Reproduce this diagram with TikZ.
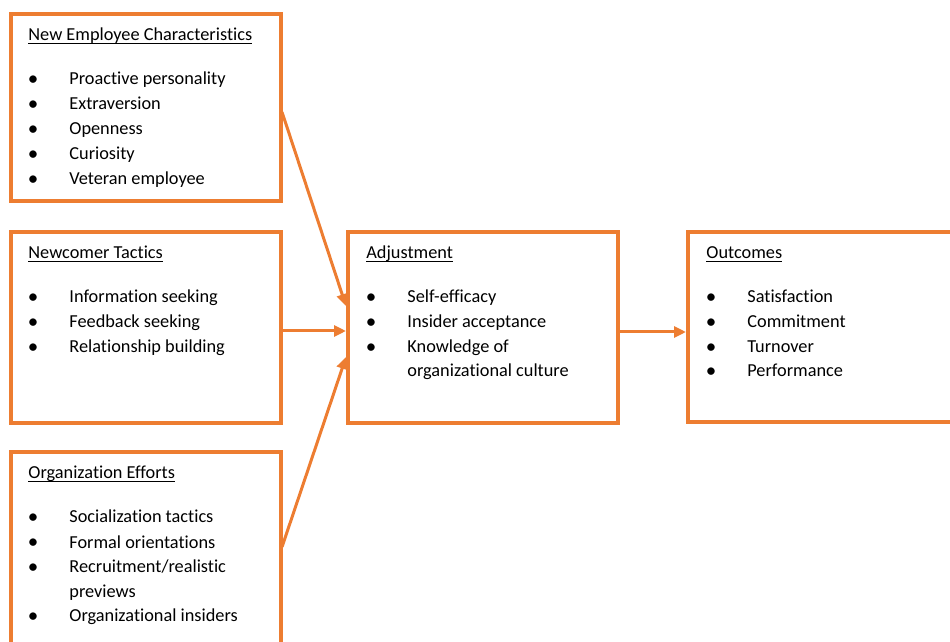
\documentclass[tikz,border=0pt]{standalone}
\usepackage{fontspec}
\setmainfont[Ligatures={NoCommon}]{Carlito}
\usetikzlibrary{arrows.meta}
\definecolor{org}{HTML}{ED7D31}
\newcommand\myul[1]{\setbox0\hbox{#1}\rlap{\rule[-1.3pt]{\wd0}{0.5pt}}#1}
\tikzset{
  box/.style={draw=org, line width=2pt, rectangle, inner sep=0pt, fill=none},
  txt/.style={anchor=base west, inner sep=0pt, yshift=-1pt, font=\fontsize{9.15pt}{12.5pt}\selectfont},
  bul/.style={anchor=base, inner sep=0pt, yshift=-1.2pt, font=\fontsize{10.5pt}{12.5pt}\selectfont},
  arr/.style={draw=org, line width=1.5pt, -{Triangle[length=6pt,width=5.5pt]}}
}
\begin{document}
\begin{tikzpicture}[x=0.5pt,y=-0.5pt]
\useasboundingbox (0,0) rectangle (950,642);
\clip (0,0) rectangle (950,642);
% boxes
\node[box, minimum width=134.75pt, minimum height=93.75pt] (b1) at (145.75,107.75) {};
\node[box, minimum width=134.75pt, minimum height=95.5pt] (b2) at (145.75,327.5) {};
\node[box, minimum width=134.75pt, minimum height=106.5pt] (b3) at (145.75,558.5) {};
\node[box, minimum width=134.75pt, minimum height=95.5pt] (adj) at (482.75,327.5) {};
\node[box, minimum width=136pt, minimum height=95pt] (out) at (824,327) {};
% box 1
\node[txt] (t1) at (28,39) {\myul{New Employee Characteristics}};
\node[bul] (b1d1) at (33,83) {\textbullet};
\node[txt] (b1i1) at (69,83) {Proactive personality};
\node[bul] (b1d2) at (33,108) {\textbullet};
\node[txt] (b1i2) at (69,108) {Extraversion};
\node[bul] (b1d3) at (33,133) {\textbullet};
\node[txt] (b1i3) at (69,133) {Openness};
\node[bul] (b1d4) at (33,158) {\textbullet};
\node[txt] (b1i4) at (69,158) {Curiosity};
\node[bul] (b1d5) at (33,183) {\textbullet};
\node[txt] (b1i5) at (69,183) {Veteran employee};
% box 2
\node[txt] (t2) at (28,257) {\myul{Newcomer Tactics}};
\node[bul] (b2d1) at (33,301) {\textbullet};
\node[txt] (b2i1) at (69,301) {Information seeking};
\node[bul] (b2d2) at (33,326) {\textbullet};
\node[txt] (b2i2) at (69,326) {Feedback seeking};
\node[bul] (b2d3) at (33,351) {\textbullet};
\node[txt] (b2i3) at (69,351) {Relationship building};
% box 3
\node[txt] (t3) at (28,477) {\myul{Organization Efforts}};
\node[bul] (b3d1) at (33,521) {\textbullet};
\node[txt] (b3i1) at (69,521) {Socialization tactics};
\node[bul] (b3d2) at (33,546) {\textbullet};
\node[txt] (b3i2) at (69,546) {Formal orientations};
\node[bul] (b3d3) at (33,571) {\textbullet};
\node[txt] (b3i3) at (69,571) {Recruitment/realistic};
\node[txt] (b3i3b) at (69,595) {previews};
\node[bul] (b3d4) at (33,620) {\textbullet};
\node[txt] (b3i4) at (69,620) {Organizational insiders};
% adjustment
\node[txt] (t4) at (366,257) {\myul{Adjustment}};
\node[bul] (ad1) at (371,301) {\textbullet};
\node[txt] (ai1) at (407,301) {Self-efficacy};
\node[bul] (ad2) at (371,326) {\textbullet};
\node[txt] (ai2) at (407,326) {Insider acceptance};
\node[bul] (ad3) at (371,351) {\textbullet};
\node[txt] (ai3) at (407,351) {Knowledge of};
\node[txt] (ai3b) at (407,375) {organizational culture};
% outcomes
\node[txt] (t5) at (706,257) {\myul{Outcomes}};
\node[bul] (od1) at (711,301) {\textbullet};
\node[txt] (oi1) at (747,301) {Satisfaction};
\node[bul] (od2) at (711,326) {\textbullet};
\node[txt] (oi2) at (747,326) {Commitment};
\node[bul] (od3) at (711,351) {\textbullet};
\node[txt] (oi3) at (747,351) {Turnover};
\node[bul] (od4) at (711,375) {\textbullet};
\node[txt] (oi4) at (747,375) {Performance};
% connector end points on the borders
\coordinate (s1) at (282,112);
\coordinate (e1) at (346,306);
\coordinate (s2) at (282,331);
\coordinate (e2) at (346,331);
\coordinate (s3) at (282,547);
\coordinate (e3) at (346,357);
\coordinate (s4) at (619,332);
\coordinate (e4) at (686,332);
\draw[arr] (s1) -- (e1);
\draw[arr] (s2) -- (e2);
\draw[arr] (s3) -- (e3);
\draw[arr] (s4) -- (e4);
\end{tikzpicture}
\end{document}
